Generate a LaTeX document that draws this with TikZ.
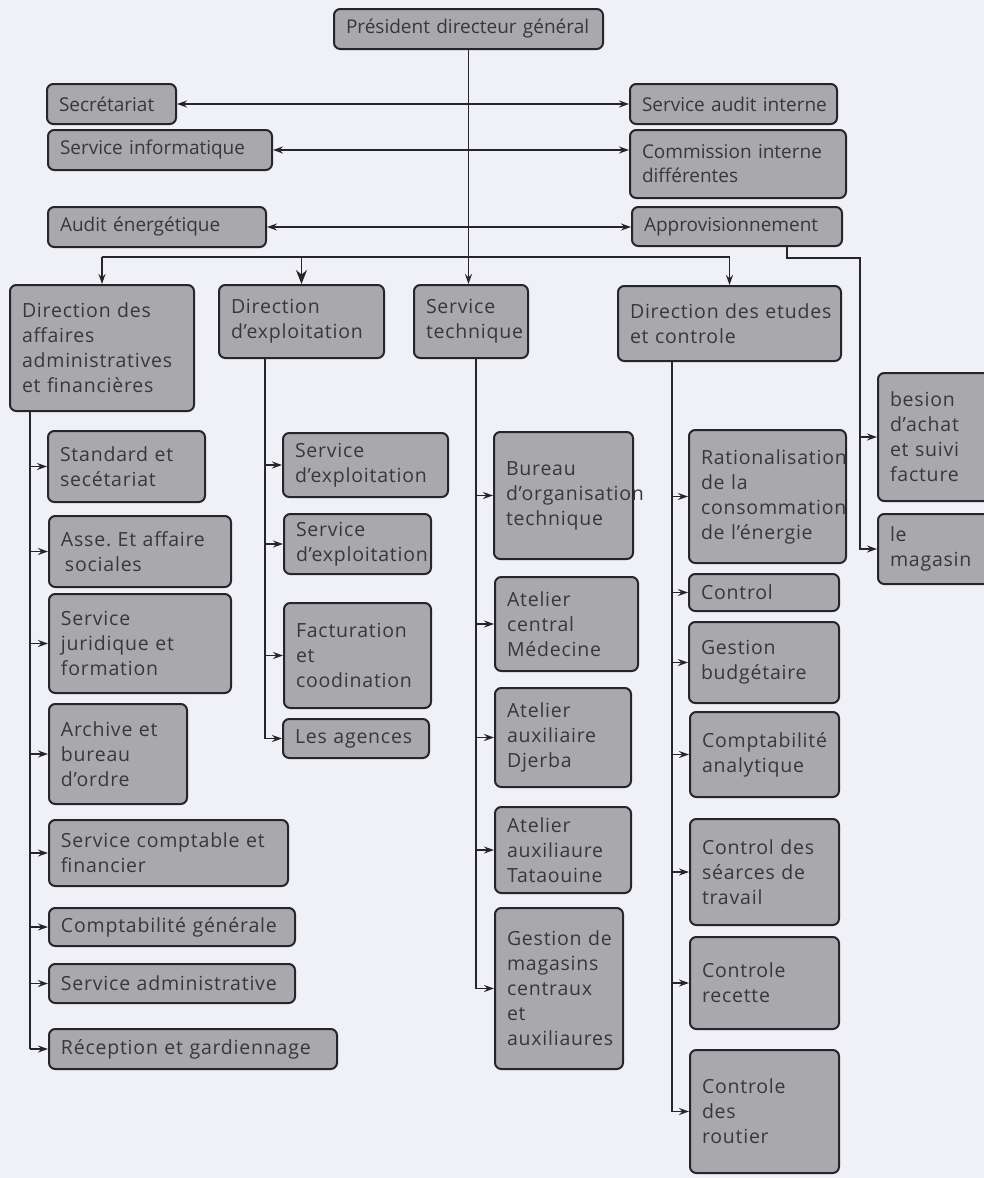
\documentclass[tikz,border=0pt]{standalone}
\usepackage{fontspec}
\setmainfont{Open Sans}[LetterSpace=4]
\newfontfamily\staff{Open Sans}
\usepackage{xcolor}
\usetikzlibrary{arrows.meta, positioning, calc}

\definecolor{paper}{RGB}{239,241,246}
\definecolor{boxgray}{RGB}{168,168,173}
\definecolor{ink}{RGB}{38,38,42}
\definecolor{txt}{RGB}{55,55,60}

\begin{document}
\frenchspacing
\begin{tikzpicture}[
    x=1pt, y=-1pt,
    font=\fontsize{19.5}{25}\selectfont,
    unit/.style={draw=ink, line width=2pt, rounded corners=2.2mm, fill=boxgray, text=txt,
      anchor=north west, align=left, inner xsep=3pt, inner ysep=4pt,
      execute at begin node={\leftskip=9pt\hyphenpenalty=10000\exhyphenpenalty=10000}},
    staffbox/.style={unit, font=\staff\fontsize{19}{24}\selectfont},
    wh/.style 2 args={text width=#1pt, minimum height=#2pt},
    link/.style={draw=ink, line width=1.5pt},
    arrow/.style={link, -{Stealth[length=10pt,width=7pt]}},
    both/.style={link, {Stealth[length=10pt,width=7pt]}-{Stealth[length=10pt,width=7pt]}},
    big/.style={link, -{Stealth[length=14pt,width=11pt]}}
  ]
  \fill[paper] (0,0) rectangle (984,1178);
  \useasboundingbox (0,0) rectangle (984,1178);

  % direction generale et staff
  \node[staffbox, wh={263}{40}] (pdg) at (333,8) {Président directeur général};
  \node[staffbox, wh={123}{40}] (secr) at (46,83) {Secrétariat};
  \node[staffbox, wh={218}{40}] (info) at (47,129) {Service informatique};
  \node[staffbox, wh={212}{40}] (audite) at (47,206) {Audit énergétique};
  \node[staffbox, wh={201}{40}] (audit) at (629,83) {Service audit interne};
  \node[staffbox, wh={210}{68}] (comm) at (629,129) {Commission interne\\différentes};
  \node[staffbox, wh={204}{39}] (appro) at (631,206) {Approvisionnement};

  % directions
  \node[unit, wh={178}{126}] (aff) at (9,284) {Direction des\\affaires\\administratives\\et financières};
  \node[unit, wh={159}{73}] (expl) at (218,284) {Direction\\d’exploitation};
  \node[unit, wh={108}{73}] (tech) at (413,284) {Service\\technique};
  \node[unit, wh={217}{75}] (etu) at (617,285) {Direction des etudes\\et controle};

  % affaires administratives
  \node[unit, wh={151}{71}] (std) at (47,430) {Standard et\\secétariat};
  \node[unit, wh={176}{71}] (asse) at (48,515) {Asse. Et affaire\\\hspace{4pt}sociales};
  \node[unit, wh={176}{99}] (jur) at (48,593) {Service\\juridique et\\formation};
  \node[unit, wh={132}{100}] (arch) at (48,703) {Archive et\\bureau\\d’ordre};
  \node[unit, wh={233}{66}] (compt) at (48,819) {Service comptable et\\financier};
  \node[unit, wh={240}{38}] (cgen) at (48,907) {Comptabilité générale};
  \node[unit, wh={240}{39}] (sadm) at (48,963) {Service administrative};
  \node[unit, wh={282}{40}] (recep) at (48,1028) {Réception et gardiennage};

  % exploitation
  \node[unit, wh={159}{64}] (sexpa) at (282,432) {Service\\d’exploitation};
  \node[unit, wh={141}{60}] (sexpb) at (283,513) {Service\\d’exploitation};
  \node[unit, wh={141}{105}] (fact) at (283,602) {Facturation\\et\\coodination};
  \node[unit, wh={140}{39}] (agen) at (282,718) {Les agences};

  % service technique
  \node[unit, wh={133}{127}] (bureau) at (493,431) {Bureau\\d’organisation\\technique};
  \node[unit, wh={137}{94}] (atcent) at (494,576) {Atelier\\central\\Médecine};
  \node[unit, wh={130}{99}] (atdj) at (494,687) {Atelier\\auxiliaire\\Djerba};
  \node[unit, wh={130}{86}] (attat) at (494,806) {Atelier\\auxiliaure\\Tataouine};
  \node[unit, wh={122}{161}] (gmag) at (494,907) {Gestion de\\magasins\\centraux\\et\\auxiliaures};

  % etudes et controle
  \node[unit, wh={151}{133}] (ratio) at (688,429) {Rationalisation\\de la\\consommation\\de l’énergie};
  \node[unit, wh={144}{37}] (ctrl) at (688,573) {Control};
  \node[unit, wh={144}{81}] (gbud) at (688,621) {Gestion\\budgétaire};
  \node[unit, wh={143}{85}] (canal) at (689,711) {Comptabilité\\analytique};
  \node[unit, wh={143}{106}] (cseance) at (689,818) {Control des\\séarces de\\travail};
  \node[unit, wh={143}{92}] (crec) at (689,936) {Controle\\recette};
  \node[unit, wh={143}{123}] (croute) at (689,1049) {Controle\\des\\routier};

  % approvisionnement
  \node[unit, wh={109}{128}] (besion) at (877,372) {besion\\d’achat\\et suivi\\facture};
  \node[unit, wh={109}{70}] (magasin) at (877,513) {le\\magasin};

  % liaisons
  \draw[both] (secr.east) -- (audit.west);
  \draw[both] (info.east) -- (info.east -| comm.west);
  \draw[both] (audite.east) -- (audite.east -| appro.west);
  \draw[arrow] (pdg.south) -- (pdg.south |- tech.north);

  \coordinate (bus) at (100,257);
  \draw[link] (aff.north |- bus) -- (etu.north |- bus);
  \draw[arrow] (aff.north |- bus) -- (aff.north);
  \draw[big] (expl.north |- bus) -- (expl.north);
  \draw[arrow] (etu.north |- bus) -- (etu.north);

  \coordinate (achat) at (860,258);
  \draw[arrow] ([xshift=50pt]appro.south) |- (achat) |- (magasin.west);
  \draw[arrow] (achat |- besion.west) -- (besion.west);

  \coordinate (affbar) at ([xshift=21pt]aff.south west);
  \draw[link] (affbar) -- (affbar |- recep.west);
  \foreach \c in {std,asse,jur,arch,compt,cgen,sadm,recep}
    \draw[arrow] (affbar |- \c.west) -- (\c.west);

  \coordinate (explbar) at ([xshift=47pt]expl.south west);
  \draw[link] (explbar) -- (explbar |- agen.west);
  \foreach \c in {sexpa,sexpb,fact,agen}
    \draw[arrow] (explbar |- \c.west) -- (\c.west);

  \coordinate (techbar) at ([xshift=63pt]tech.south west);
  \draw[link] (techbar) -- (techbar |- gmag.west);
  \foreach \c in {bureau,atcent,atdj,attat,gmag}
    \draw[arrow] (techbar |- \c.west) -- (\c.west);

  \coordinate (etubar) at ([xshift=55pt]etu.south west);
  \draw[link] (etubar) -- (etubar |- croute.west);
  \foreach \c in {ratio,ctrl,gbud,canal,cseance,crec,croute}
    \draw[arrow] (etubar |- \c.west) -- (\c.west);
\end{tikzpicture}
\end{document}
